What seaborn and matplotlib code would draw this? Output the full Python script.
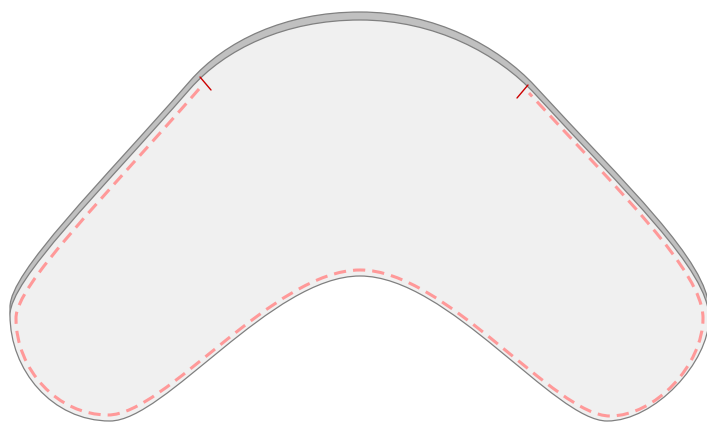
import seaborn as sns
import matplotlib.pyplot as plt
import pandas as pd
import numpy as np
from matplotlib.path import Path
from matplotlib.patches import PathPatch

# contour of the top face: start point, then cubic bezier triples (clockwise from top centre)
face_x = [360,
          435, 498, 535,
          625, 709, 709,
          709, 655, 607,
          555, 448, 360,
          272, 165, 110,
          52, 10, 10,
          10, 100, 190,
          225, 285, 360]
face_y = [20,
          20, 54, 94,
          192, 270, 318,
          362, 421, 421,
          421, 276, 276,
          276, 421, 421,
          421, 370, 315,
          280, 192, 89,
          49, 20, 20]

# dashed inset line, left tick -> around the bottom -> right tick
dash_x = [199,
          104, 16, 16,
          16, 58, 108,
          165, 274, 360,
          446, 555, 610,
          655, 703, 703,
          703, 619, 529]
dash_y = [89,
          198, 285, 318,
          370, 415, 415,
          415, 270, 270,
          270, 416, 416,
          416, 365, 318,
          272, 191, 93]

# the two small red marks
tick_x = [200, 211, 528, 517]
tick_y = [77, 90, 85, 98]
tick_id = ['a', 'a', 'b', 'b']

depth = 8  # visible thickness of the shape


def bezier_path(xs, ys, closed=False):
    verts = list(zip(xs, ys))
    codes = [Path.MOVETO] + [Path.CURVE4] * (len(verts) - 1)
    if closed:
        verts.append(verts[0])
        codes.append(Path.CLOSEPOLY)
    return Path(verts, codes)


sns.set_style('white')
fig = plt.figure(figsize=(7.07, 4.22), dpi=100)
ax = fig.add_axes([0, 0, 1, 1])

# back side (shifted up) then the face on top
back = bezier_path(face_x, [y - depth for y in face_y], closed=True)
ax.add_patch(PathPatch(back, facecolor='#c0c0c0', edgecolor='#808080', lw=0.9))
face = bezier_path(face_x, face_y, closed=True)
ax.add_patch(PathPatch(face, facecolor='#f0f0f0', edgecolor='#808080', lw=0.9))

dashed = bezier_path(dash_x, dash_y)
ax.add_patch(PathPatch(dashed, facecolor='none', edgecolor='#ff9999', lw=2.2,
                       linestyle=(0, (4, 2.3)), capstyle='butt'))

ticks = pd.DataFrame({'x': tick_x, 'y': tick_y, 'id': tick_id})
sns.lineplot(data=ticks, x='x', y='y', units='id', estimator=None, sort=False,
             color='#cc0000', lw=1, ax=ax)

ax.set_xlim(0, 707)
ax.set_ylim(422, 0)
ax.axis('off')

fig.savefig('out.png', dpi=100)
